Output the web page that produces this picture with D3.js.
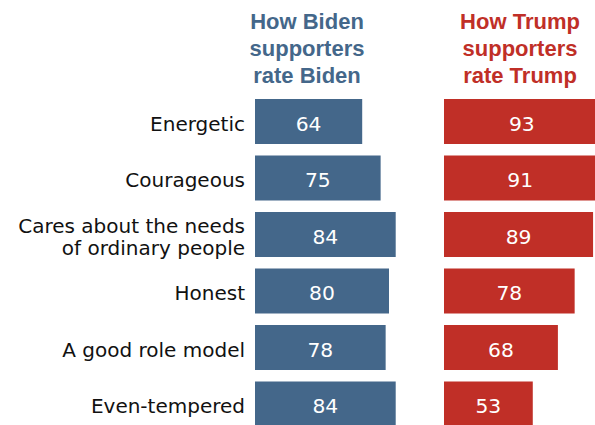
<!DOCTYPE html>
<html>
<head>
<meta charset="utf-8">
<script src="https://cdn.jsdelivr.net/npm/d3@7"></script>
<style>
  html, body { margin: 0; padding: 0; background: #fff; }
  svg { display: block; }
</style>
</head>
<body>
<svg id="chart" width="595" height="425"></svg>
<script>
// Traits rated by each candidate's own supporters (% saying describes well)
const traits = [
  ["Energetic"],
  ["Courageous"],
  ["Cares about the needs", "of ordinary people"],
  ["Honest"],
  ["A good role model"],
  ["Even-tempered"]
];
const bidenValues = [64, 75, 84, 80, 78, 84];
const trumpValues = [93, 91, 89, 78, 68, 53];
const bidenHeader = ["How Biden", "supporters", "rate Biden"];
const trumpHeader = ["How Trump", "supporters", "rate Trump"];

const bidenColor = "#44678a";
const trumpColor = "#c02f27";
const fontBody = "'DejaVu Sans', Verdana, sans-serif";
const fontHead = "'Liberation Sans', Arial, sans-serif";

const svg = d3.select("#chart");

const y = d3.scaleBand()
  .domain(d3.range(traits.length))
  .range([99 - 5.75, 99 - 5.75 + 56.5 * 6])
  .paddingInner(11.5 / 56.5)
  .paddingOuter(5.75 / 56.5);

const xBiden = d3.scaleLinear().domain([0, 100]).range([255, 255 + 167.5]);
const xTrump = d3.scaleLinear().domain([0, 100]).range([444, 444 + 167.5]);

// Row labels
const labels = svg.append("g")
  .attr("font-family", fontBody)
  .attr("font-size", 20)
  .attr("fill", "#111")
  .attr("text-anchor", "end");

traits.forEach((lines, i) => {
  const cy = y(i) + y.bandwidth() / 2;
  const lh = 22;
  const t = labels.append("text").attr("x", 245);
  lines.forEach((ln, j) => {
    t.append("tspan")
      .attr("x", 245)
      .attr("y", cy + 9 + (j - (lines.length - 1) / 2) * lh)
      .text(ln);
  });
});

function drawColumn(values, x, color, header, cx) {
  const g = svg.append("g");
  g.selectAll("rect")
    .data(values)
    .join("rect")
    .attr("x", x(0))
    .attr("y", (d, i) => y(i))
    .attr("width", d => x(d) - x(0))
    .attr("height", y.bandwidth())
    .attr("fill", color);

  g.selectAll("text.val")
    .data(values)
    .join("text")
    .attr("class", "val")
    .attr("x", d => (x(0) + x(d)) / 2)
    .attr("y", (d, i) => y(i) + y.bandwidth() / 2 + 9)
    .attr("text-anchor", "middle")
    .attr("font-family", fontBody)
    .attr("font-size", 20.3)
    .attr("fill", "#fff")
    .text(d => d);

  const h = svg.append("text")
    .attr("text-anchor", "middle")
    .attr("font-family", fontHead)
    .attr("font-weight", "bold")
    .attr("font-size", 22)
    .attr("fill", color);
  header.forEach((ln, j) => {
    h.append("tspan").attr("x", cx).attr("y", 28.5 + j * 27.4).text(ln);
  });
}

drawColumn(bidenValues, xBiden, bidenColor, bidenHeader, 307);
drawColumn(trumpValues, xTrump, trumpColor, trumpHeader, 520);
</script>
</body>
</html>
